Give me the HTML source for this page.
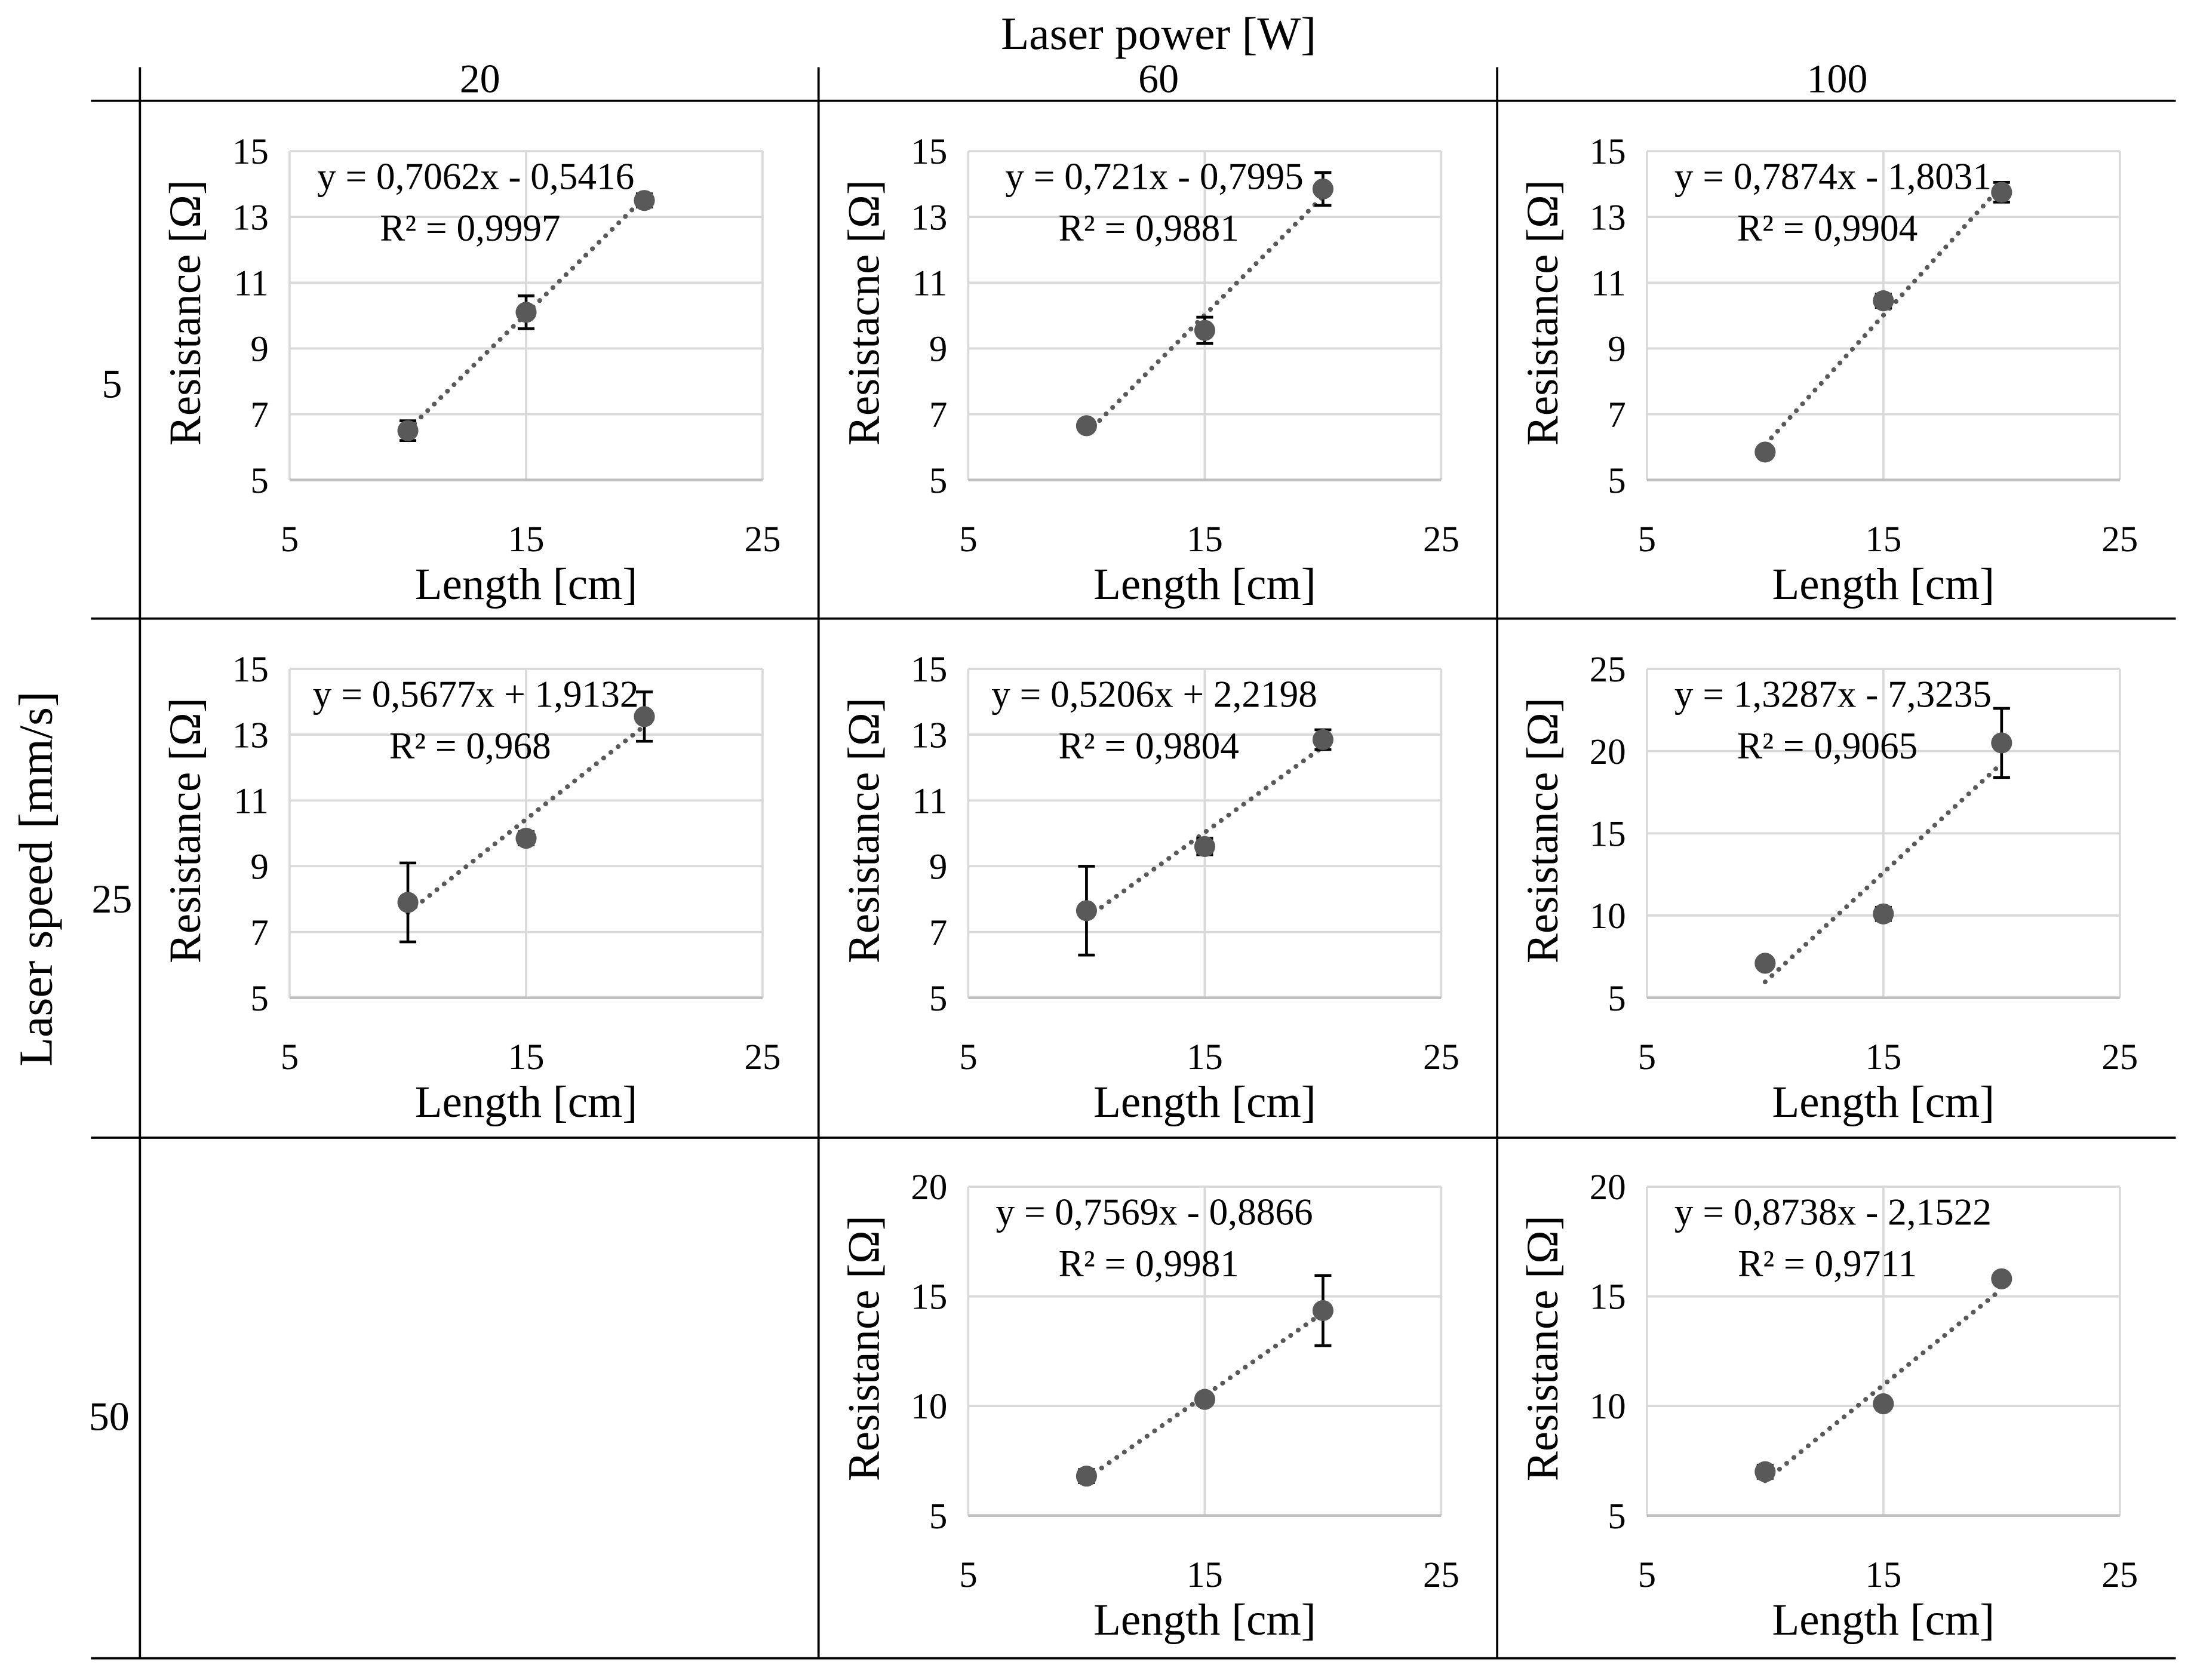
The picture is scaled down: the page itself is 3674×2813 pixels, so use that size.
<!DOCTYPE html>
<html><head><meta charset="utf-8"><style>
html,body{margin:0;padding:0;background:#fff}
svg{display:block}
text{font-family:"Liberation Serif",serif;fill:#000}
</style></head><body>
<svg id="chart" width="3674" height="2813" viewBox="0 0 1568 1200.5" preserveAspectRatio="none" xmlns="http://www.w3.org/2000/svg">
<g stroke="#000" stroke-width="1.6">
<line x1="100" y1="48" x2="100" y2="1185"/>
<line x1="585" y1="48" x2="585" y2="1185"/>
<line x1="1070" y1="48" x2="1070" y2="1185"/>
<line x1="65" y1="72" x2="1555" y2="72"/>
<line x1="65" y1="442" x2="1555" y2="442"/>
<line x1="65" y1="813" x2="1555" y2="813"/>
<line x1="65" y1="1185" x2="1555" y2="1185"/>
</g>
<text x="828" y="35" font-size="33" text-anchor="middle">Laser power [W]</text>
<text x="343" y="66" font-size="29" text-anchor="middle">20</text>
<text x="828" y="66" font-size="29" text-anchor="middle">60</text>
<text x="1313" y="66" font-size="29" text-anchor="middle">100</text>
<text x="80" y="284" font-size="29" text-anchor="middle">5</text>
<text x="80" y="652" font-size="29" text-anchor="middle">25</text>
<text x="78" y="1022" font-size="29" text-anchor="middle">50</text>
<text transform="translate(37,628) rotate(-90)" font-size="34" text-anchor="middle">Laser speed [mm/s]</text>
<g id="plots"></g>
</svg>
<script>
const NS="http://www.w3.org/2000/svg";
const xVals=[10,15,20];
const xTicks=[5,15,25];
const slopes=[0.7062,0.721,0.7874,0.5677,0.5206,1.3287,0.7569,0.8738];
const intercepts=[-0.5416,-0.7995,-1.8031,1.9132,2.2198,-7.3235,-0.8866,-2.1522];
const yValues=[[6.5,10.1,13.5],[6.65,9.55,13.85],[5.85,10.45,13.75],[7.9,9.85,13.55],[7.65,9.6,12.85],[7.1,10.1,20.5],[6.8,10.3,14.35],[7.0,10.1,15.8]];
const yErrors=[[0.3,0.5,0.2],[0,0.4,0.5],[0,0.2,0.3],[1.2,0.2,0.75],[1.35,0.25,0.3],[0,0.4,2.1],[0.3,0,1.6],[0.3,0.2,0]];
const eqLabels=["y = 0,7062x - 0,5416","y = 0,721x - 0,7995","y = 0,7874x - 1,8031","y = 0,5677x + 1,9132","y = 0,5206x + 2,2198","y = 1,3287x - 7,3235","y = 0,7569x - 0,8866","y = 0,8738x - 2,1522"];
const r2Labels=["R² = 0,9997","R² = 0,9881","R² = 0,9904","R² = 0,968","R² = 0,9804","R² = 0,9065","R² = 0,9981","R² = 0,9711"];
const yTickSets=[[5,7,9,11,13,15],[5,7,9,11,13,15],[5,7,9,11,13,15],[5,7,9,11,13,15],[5,7,9,11,13,15],[5,10,15,20,25],[5,10,15,20],[5,10,15,20]];
const yTitles=["Resistance [Ω]","Resistacne [Ω]","Resistance [Ω]","Resistance [Ω]","Resistance [Ω]","Resistance [Ω]","Resistance [Ω]","Resistance [Ω]"];
const cells=[[0,0],[0,1],[0,2],[1,0],[1,1],[1,2],[2,1],[2,2]];
const root=document.getElementById('plots');
function mk(tag,attrs,parent,txt){const e=document.createElementNS(NS,tag);for(const k in attrs)e.setAttribute(k,attrs[k]);if(txt!==undefined)e.textContent=txt;parent.appendChild(e);return e;}
cells.forEach((rc,i)=>{
  const L=207+rc[1]*485, T=108+rc[0]*370, W=338, H=235;
  const yt=yTickSets[i], y0=yt[0], y1=yt[yt.length-1];
  const sx=v=>L+(v-xTicks[0])/(xTicks[2]-xTicks[0])*W;
  const sy=v=>T+H-(v-y0)/(y1-y0)*H;
  const g=mk('g',{},root);
  
  
  yt.forEach(t=>{const l=mk('line',{x1:L,x2:L+W,y1:sy(t),y2:sy(t),stroke:'#d9d9d9','stroke-width':1.6},g);
    
    const tx=mk('text',{x:L-15,y:sy(t)+9,'font-size':26,'text-anchor':'end'},g,String(t));
    });
  xTicks.forEach(t=>{const l=mk('line',{x1:sx(t),x2:sx(t),y1:T,y2:T+H,stroke:'#d9d9d9','stroke-width':1.6},g);
    
    const tx=mk('text',{x:sx(t),y:T+H+51,'font-size':26,'text-anchor':'middle'},g,String(t));
    });
  const xa=mk('line',{x1:L,x2:L+W,y1:T+H,y2:T+H,stroke:'#bfbfbf','stroke-width':2},g);
  
  const xt=mk('text',{x:L+W/2,y:T+H+85,'font-size':32,'text-anchor':'middle'},g,'Length [cm]');
  
  const ytt=mk('text',{transform:`translate(${L-64},${T+H/2-2}) rotate(-90)`,'font-size':32,'text-anchor':'middle'},g,yTitles[i]);
  
  const tr=mk('line',{x1:sx(10),y1:sy(slopes[i]*10+intercepts[i]),x2:sx(20),y2:sy(slopes[i]*20+intercepts[i]),stroke:'#595959','stroke-width':3.4,'stroke-dasharray':'0.1 6.5','stroke-linecap':'round'},g);
  
  xVals.forEach((x,j)=>{
    const y=yValues[i][j], e=yErrors[i][j];
    if(e>0){const eb=mk('path',{d:`M${sx(x)},${sy(y+e)}V${sy(y-e)}M${sx(x)-6},${sy(y+e)}h12M${sx(x)-6},${sy(y-e)}h12`,stroke:'#000','stroke-width':2,fill:'none'},g);
      }
    const c=mk('circle',{cx:sx(x),cy:sy(y),r:7.5,fill:'#595959'},g);
    
  });
  const eq=mk('text',{x:L+133,y:T+27,'font-size':27,'text-anchor':'middle'},g,eqLabels[i]);
  
  const r2=mk('text',{x:L+129,y:T+64,'font-size':27,'text-anchor':'middle'},g,r2Labels[i]);
  
});
</script>
</body></html>
